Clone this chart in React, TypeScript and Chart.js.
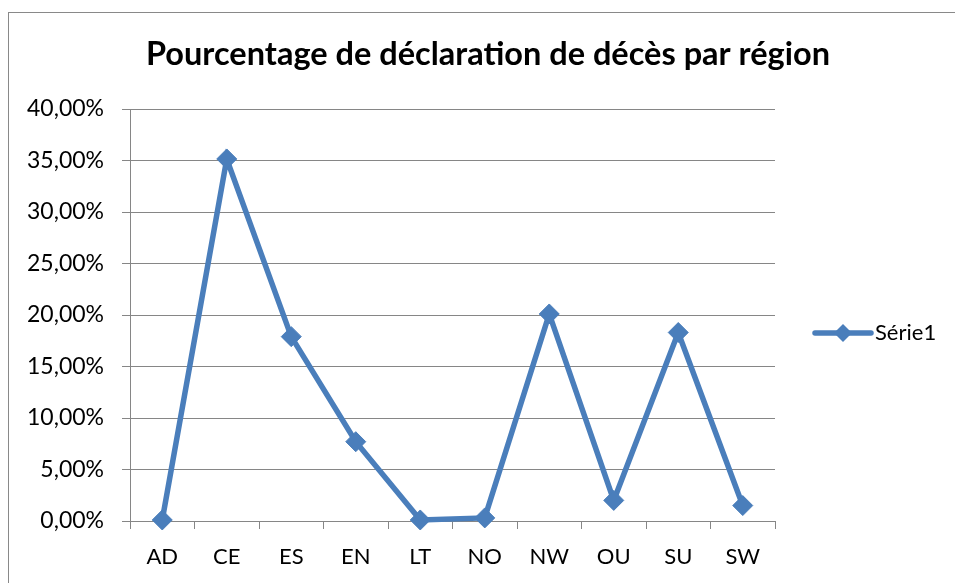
import React, { useEffect, useRef } from "react";
import { Chart, registerables } from "chart.js";

Chart.register(...registerables);

const TITLE = "Pourcentage de déclaration de décès par région";
const SERIES_NAME = "Série1";
const categories = ["AD", "CE", "ES", "EN", "LT", "NO", "NW", "OU", "SU", "SW"];
const values = [0.1, 35.15, 17.9, 7.7, 0.1, 0.3, 20.1, 2.0, 18.3, 1.5];
const yMin = 0;
const yMax = 40;
const yStep = 5;

const LINE_COLOR = "#4A7EBB";
const GRID_COLOR = "#868686";
const FONT = "Lato";

const framePlugin = {
  id: "frame",
  beforeDraw(chart: any) {
    const ctx = chart.ctx;
    ctx.save();
    ctx.fillStyle = "#ffffff";
    ctx.fillRect(0, 0, chart.width, chart.height);
    ctx.strokeStyle = "#898989";
    ctx.lineWidth = 1;
    ctx.strokeRect(8.5, 12.5, chart.width, chart.height);
    ctx.fillStyle = "#000";
    ctx.font = `bold 32.5px ${FONT}`;
    ctx.textAlign = "center";
    ctx.textBaseline = "alphabetic";
    ctx.fillText(TITLE, 488, 65);
    ctx.restore();
  },
};

const legendPlugin = {
  id: "customLegend",
  afterDraw(chart: any) {
    const ctx = chart.ctx;
    const ca = chart.chartArea;
    const x0 = ca.right + 40;
    const x1 = x0 + 56;
    const y = (ca.top + ca.bottom) / 2 + 18;
    ctx.save();
    ctx.strokeStyle = LINE_COLOR;
    ctx.lineWidth = 5.5;
    ctx.lineCap = "round";
    ctx.beginPath();
    ctx.moveTo(x0, y);
    ctx.lineTo(x1, y);
    ctx.stroke();
    const cx = (x0 + x1) / 2;
    const r = 9;
    ctx.fillStyle = LINE_COLOR;
    ctx.beginPath();
    ctx.moveTo(cx, y - r);
    ctx.lineTo(cx + r, y);
    ctx.lineTo(cx, y + r);
    ctx.lineTo(cx - r, y);
    ctx.closePath();
    ctx.fill();
    ctx.fillStyle = "#000";
    ctx.font = `22px ${FONT}`;
    ctx.textBaseline = "middle";
    ctx.textAlign = "left";
    ctx.fillText(SERIES_NAME, x1 + 4, y);
    ctx.restore();
  },
};

export default function App() {
  const ref = useRef<HTMLCanvasElement | null>(null);
  useEffect(() => {
    if (!ref.current) return;
    const chart = new Chart(ref.current, {
      type: "line",
      data: {
        labels: categories,
        datasets: [
          {
            label: SERIES_NAME,
            data: values,
            borderColor: LINE_COLOR,
            backgroundColor: LINE_COLOR,
            borderWidth: 5.5,
            pointStyle: "rectRot",
            pointRadius: 10,
            pointBorderWidth: 1,
            pointBorderColor: LINE_COLOR,
            pointBackgroundColor: LINE_COLOR,
            tension: 0,
            clip: false as any,
          },
        ],
      },
      options: {
        animation: false,
        responsive: false,
        maintainAspectRatio: false,
        layout: { padding: { left: 0, right: 180, top: 109, bottom: 0 } },
        plugins: {
          legend: { display: false },
          tooltip: { enabled: false },
          title: { display: false },
        },
        scales: {
          x: {
            type: "category",
            offset: true,
            grid: {
              offset: true,
              drawOnChartArea: false,
              drawTicks: true,
              tickLength: 8,
              color: GRID_COLOR,
            },
            border: { display: true, color: GRID_COLOR, width: 1 },
            ticks: {
              color: "#000",
              font: { family: FONT, size: 22 },
              padding: 15,
              maxRotation: 0,
              autoSkip: false,
            },
            afterFit(scale: any) {
              scale.height = 62;
            },
          },
          y: {
            min: yMin,
            max: yMax,
            grid: {
              color: GRID_COLOR,
              tickLength: 8,
              drawTicks: true,
            },
            border: { display: true, color: GRID_COLOR, width: 1 },
            ticks: {
              stepSize: yStep,
              color: "#000",
              font: { family: FONT, size: 23 },
              padding: 18,
              callback: (v: any) => Number(v).toFixed(2).replace(".", ",") + "%",
            },
            afterFit(scale: any) {
              scale.width = 130;
            },
          },
        },
      },
      plugins: [framePlugin, legendPlugin],
    });
    return () => chart.destroy();
  }, []);
  return (
    <div style={{ position: "fixed", left: 0, top: 0, width: 955, height: 583 }}>
      <canvas ref={ref} width={955} height={583} style={{ width: 955, height: 583, display: "block" }} />
    </div>
  );
}
